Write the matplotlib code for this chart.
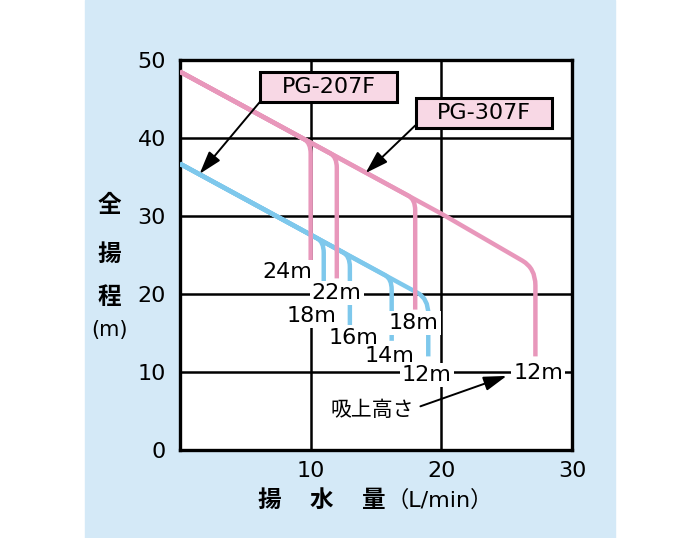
import matplotlib.pyplot as plt
import numpy as np
from matplotlib.path import Path
from matplotlib.patches import PathPatch, Rectangle

plt.rcParams['font.family'] = ['DejaVu Sans', 'Noto Sans CJK JP']

# PG-307F (pink): head line points and branch (flow, suction lift) pairs
pg307_x = [0, 20, 27.2]
pg307_y = [48.5, 30.3, 23.3]
pg307_branch_x = [10.0, 12.0, 18.0, 27.2]
pg307_lift = [24, 22, 18, 12]

# PG-207F (blue)
pg207_x = [0, 19.0]
pg207_y = [36.7, 19.4]
pg207_branch_x = [11.0, 13.0, 16.2, 19.0]
pg207_lift = [18, 16, 14, 12]

# label positions for the lift labels
pg307_lab_x = [8.2, 12.0, 17.9, 27.4]
pg307_lab_y = [22.8, 20.1, 16.3, 9.9]
pg207_lab_x = [10.1, 13.3, 16.0, 18.9]
pg207_lab_y = [17.2, 14.4, 12.0, 9.6]

pink = '#e897bb'
blue = '#7ec8ec'


def branch(hx, hy, xb, y_end, rx, ry):
    yb = np.interp(xb, hx, hy)
    verts = [(x, y) for x, y in zip(hx, hy) if x < xb - rx]
    verts += [(xb - rx, np.interp(xb - rx, hx, hy)), (xb, yb), (xb, yb - ry), (xb, y_end)]
    codes = [Path.MOVETO] + [Path.LINETO] * (len(verts) - 5) + [Path.LINETO, Path.CURVE3, Path.CURVE3, Path.LINETO]
    return Path(verts, codes)


fig = plt.figure(figsize=(7, 5.38), dpi=100)
fig.add_artist(Rectangle((85 / 700, 0), 530 / 700, 1, transform=fig.transFigure,
                         color='#d4e9f7', zorder=-5))
ax = fig.add_axes([180 / 700, 88 / 538, 392 / 700, 390 / 538])
ax.set_facecolor('white')
ax.set_xlim(0, 30)
ax.set_ylim(0, 50)
ax.set_xticks([10, 20, 30])
ax.set_yticks(range(0, 51, 10))
ax.tick_params(length=0, labelsize=16)
ax.tick_params(axis='y', pad=10)
ax.tick_params(axis='x', pad=8)
ax.grid(color='black', lw=1.8)
ax.set_axisbelow(True)
for s in ax.spines.values():
    s.set_linewidth(2.4)

n = len(pg207_branch_x)
for i, (xb, lift) in enumerate(zip(pg207_branch_x, pg207_lift)):
    r = (0.8, 2.0) if i == n - 1 else (0.5, 1.4)
    ax.add_patch(PathPatch(branch(pg207_x, pg207_y, xb, lift, *r), fill=False,
                           ec=blue, lw=3.2, capstyle='butt', joinstyle='round', zorder=3))
n = len(pg307_branch_x)
for i, (xb, lift) in enumerate(zip(pg307_branch_x, pg307_lift)):
    r = (1.0, 2.2) if i == n - 1 else (0.5, 1.4)
    ax.add_patch(PathPatch(branch(pg307_x, pg307_y, xb, lift, *r), fill=False,
                           ec=pink, lw=3.2, capstyle='butt', joinstyle='round', zorder=4))

lab_box = dict(boxstyle='square,pad=0.1', fc='white', ec='none')
for x, y, lift in zip(pg307_lab_x + pg207_lab_x, pg307_lab_y + pg207_lab_y, pg307_lift + pg207_lift):
    ax.text(x, y, f'{lift}m', ha='center', va='center', fontsize=16, bbox=lab_box, zorder=5)

# model name boxes
for (x0, x1, y0, y1), name in [((6.12, 16.6, 44.6, 48.5), 'PG-207F'),
                               ((18.06, 28.46, 41.3, 45.1), 'PG-307F')]:
    ax.add_patch(Rectangle((x0, y0), x1 - x0, y1 - y0, fc='#f8d8e5', ec='black', lw=2.2, zorder=6))
    ax.text((x0 + x1) / 2, (y0 + y1) / 2, name, ha='center', va='center', fontsize=16, zorder=7)

arrow = dict(arrowstyle='-|>,head_length=0.7,head_width=0.22', color='black', lw=1.4,
             mutation_scale=20, shrinkA=0, shrinkB=0)
ax.annotate('', xy=(1.5, 35.4), xytext=(6.2, 44.8), arrowprops=arrow, zorder=6)
ax.annotate('', xy=(14.2, 35.5), xytext=(18.0, 41.6), arrowprops=arrow, zorder=6)
ax.annotate('', xy=(25.0, 9.5), xytext=(18.4, 5.6), arrowprops=arrow, zorder=6)
ax.text(14.7, 5.1, '吸上高さ', ha='center', va='center', fontsize=15, zorder=6)

# axis titles
for y, ch in zip([31.4, 25.1, 19.6], ['全', '揚', '程']):
    ax.text(-5.4, y, ch, ha='center', va='center', fontsize=17, fontweight='bold', clip_on=False)
ax.text(-5.4, 15.4, '(m)', ha='center', va='center', fontsize=15, clip_on=False)
for x, ch in zip([6.85, 10.85, 14.85], ['揚', '水', '量']):
    ax.text(x, -6.4, ch, ha='center', va='center', fontsize=17, fontweight='bold', clip_on=False)
ax.text(19.9, -6.4, '（L/min）', ha='center', va='center', fontsize=16, clip_on=False)

fig.savefig('out.png', dpi=100)
